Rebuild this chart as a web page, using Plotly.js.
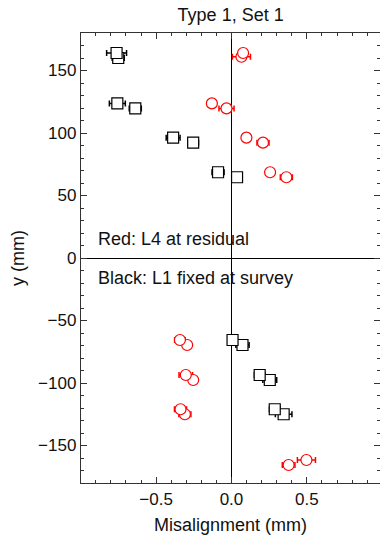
<!DOCTYPE html>
<html><head><meta charset="utf-8">
<script src="https://cdn.plot.ly/plotly-3.0.1.min.js"></script>
<style>body{margin:0;background:#fff}#c{width:380px;height:540px}</style>
</head><body><div id="c"></div>
<script>
// Black: L1 fixed at survey
const blackX = [-0.762, -0.751, -0.757, -0.638, -0.387, -0.254, -0.089, 0.037,
                0.007, 0.073, 0.187, 0.254, 0.287, 0.346];
const blackY = [164, 160, 123.7, 119.7, 96.3, 92.3, 68.6, 64.6,
                -65.6, -69.6, -93.6, -97.6, -121, -125];
const blackErr = [0.066, 0.04, 0.053, 0.04, 0.046, 0.035, 0.04, 0.02,
                  0.02, 0.044, 0.035, 0.046, 0.035, 0.055];
// Red: L4 at residual
const redX = [0.077, 0.066, -0.130, -0.033, 0.099, 0.209, 0.256, 0.364,
              -0.342, -0.294, -0.303, -0.254, -0.338, -0.309, 0.379, 0.497];
const redY = [164, 161, 123.7, 119.7, 96.3, 92.3, 68.6, 64.6,
              -65.6, -69.6, -93.6, -97.6, -121, -125, -165.6, -161.6];
const redErr = [0.02, 0.06, 0.01, 0.05, 0.01, 0.04, 0.01, 0.04,
                0.035, 0.01, 0.045, 0.01, 0.04, 0.04, 0.042, 0.06];
const xTicks = [-0.5, 0.0, 0.5];
const xTickText = ['\u22120.5', '0.0', '0.5'];
const yTicks = [150, 100, 50, 0, -50, -100, -150];
const yTickText = ['150', '100', '50', '0', '\u221250', '\u2212100', '\u2212150'];

const font = 'Liberation Sans, Arial, Helvetica, sans-serif';
const traces = [
  {x: blackX.slice().reverse(), y: blackY.slice().reverse(), type: 'scatter', mode: 'markers',
   marker: {symbol: 'square', size: 11, color: 'white', line: {color: 'black', width: 1.2}},
   error_x: {type: 'data', array: blackErr.slice().reverse(), color: 'black', thickness: 1.5, width: 3}},
  {x: redX.slice().reverse(), y: redY.slice().reverse(), type: 'scatter', mode: 'markers',
   marker: {symbol: 'circle', size: 11, color: 'white', line: {color: 'red', width: 1.2}},
   error_x: {type: 'data', array: redErr.slice().reverse(), color: 'red', thickness: 1.5, width: 3}}
];
const axCommon = {
  showgrid: false, zeroline: true, zerolinecolor: 'black', zerolinewidth: 1,
  showline: true, linecolor: '#333', linewidth: 1.2, mirror: 'allticks',
  ticks: 'inside', ticklen: 6, tickcolor: '#333', tickwidth: 1,
  tickfont: {family: font, size: 17, color: '#111'}
};
const layout = {
  width: 380, height: 540, showlegend: false,
  margin: {l: 81, r: 0, t: 33, b: 57},
  paper_bgcolor: 'white', plot_bgcolor: 'white',
  title: {text: 'Type 1, Set 1', font: {family: font, size: 18, color: '#111'}, x: 0.607, xanchor: 'center', y: 0.972, yanchor: 'middle'},
  xaxis: Object.assign({}, axCommon, {
    range: [-0.998, 0.985], tickvals: xTicks, ticktext: xTickText,
    minor: {dtick: 0.1, ticklen: 3, ticks: 'inside', tickcolor: '#333', showgrid: false},
    title: {text: 'Misalignment (mm)', font: {family: font, size: 18, color: '#111'}, standoff: 10}
  }),
  yaxis: Object.assign({}, axCommon, {
    range: [-180, 180], tickvals: yTicks, ticktext: yTickText,
    minor: {dtick: 10, ticklen: 3, ticks: 'inside', tickcolor: '#333', showgrid: false},
    title: {text: 'y (mm)', font: {family: font, size: 18, color: '#111'}, standoff: 8}
  }),
  annotations: [
    {text: 'Red: L4 at residual', xref: 'paper', yref: 'y', x: 0.05, y: 15, xanchor: 'left', yanchor: 'middle', showarrow: false, font: {family: font, size: 18, color: '#111'}},
    {text: 'Black: L1 fixed at survey', xref: 'paper', yref: 'y', x: 0.05, y: -16, xanchor: 'left', yanchor: 'middle', showarrow: false, font: {family: font, size: 18, color: '#111'}}
  ]
};
Plotly.newPlot('c', traces, layout, {displayModeBar: false, staticPlot: true});
</script></body></html>
